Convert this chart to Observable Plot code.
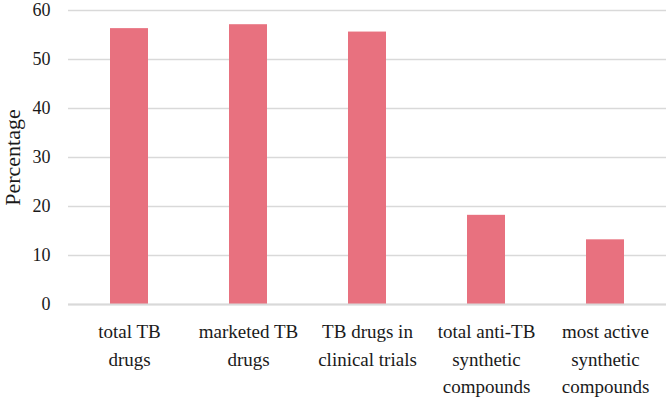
<!DOCTYPE html>
<html>
<head>
<meta charset="utf-8">
<script src="https://cdn.jsdelivr.net/npm/d3@7"></script>
<script src="https://cdn.jsdelivr.net/npm/@observablehq/plot@0.6"></script>
<style>
  html, body { margin: 0; padding: 0; background: #fff; }
  #chart { width: 666px; height: 400px; }
</style>
</head>
<body>
<div id="chart"></div>
<script>
const categories = [
  "total TB\ndrugs",
  "marketed TB\ndrugs",
  "TB drugs in\nclinical trials",
  "total anti-TB\nsynthetic\ncompounds",
  "most active\nsynthetic\ncompounds"
];
const values = [56.3, 57.1, 55.6, 18.2, 13.2];
const yTicks = [0, 10, 20, 30, 40, 50, 60];

const data = categories.map((c, i) => ({category: c, value: values[i]}));
const font = "Liberation Serif, serif";

const chart = Plot.plot({
  width: 666,
  height: 400,
  marginLeft: 68,
  marginRight: 0,
  marginTop: 10,
  marginBottom: 96,
  style: {fontFamily: font, fontSize: "19px", color: "#1a1a1a", background: "#fff"},
  x: {domain: categories, paddingInner: 0.68, paddingOuter: 0.34, label: null},
  y: {domain: [0, 60], ticks: yTicks, label: null},
  marks: [
    Plot.gridY(yTicks, {stroke: "#d9d9d9", strokeOpacity: 1, strokeWidth: 1.5}),
    Plot.barY(data, {x: "category", y: "value", fill: "#e8717f"}),
    Plot.ruleY([0], {stroke: "#d9d9d9", strokeWidth: 2}),
    Plot.axisY({ticks: yTicks, tickSize: 0, tickPadding: 18, fontSize: 18, label: null}),
    Plot.axisX({tickSize: 0, tickPadding: 14, fontSize: 19, lineHeight: 1.45, label: null}),
    Plot.text(["Percentage"], {
      frameAnchor: "left", textAnchor: "middle", dx: -56, rotate: -90, fontSize: 22, fill: "#1a1a1a"
    })
  ]
});
document.getElementById("chart").appendChild(chart);
</script>
</body>
</html>
